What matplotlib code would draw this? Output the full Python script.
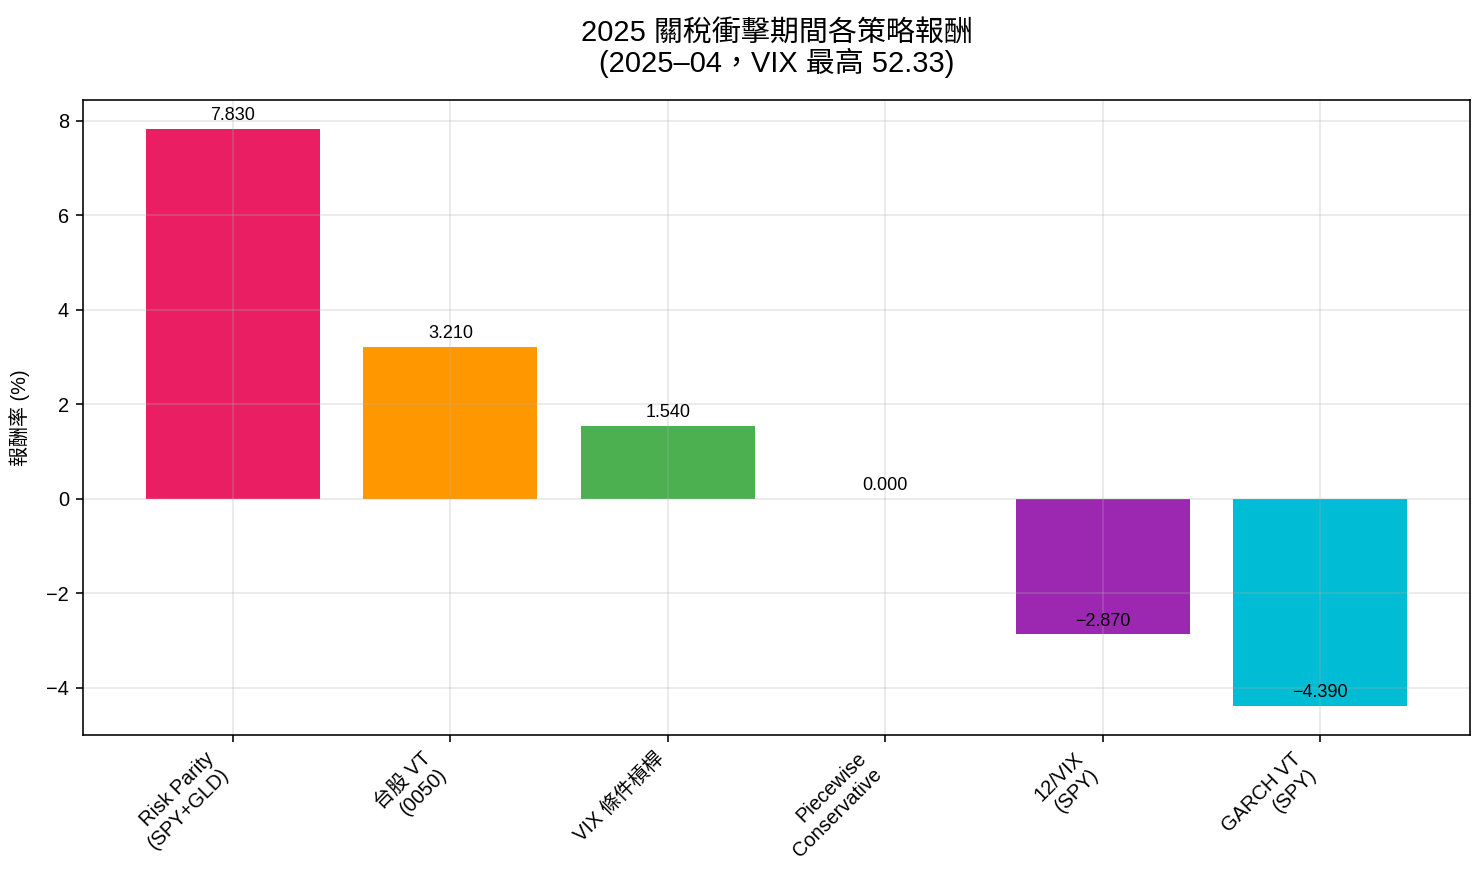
import matplotlib

matplotlib.use("Agg")
import matplotlib.pyplot as plt

plt.rcParams["font.family"] = ["Liberation Sans", "Noto Sans CJK TC", "DejaVu Sans"]
plt.rcParams["axes.unicode_minus"] = True

TITLE = "2025 關稅衝擊期間各策略報酬\n(2025–04，VIX 最高 52.33)"
strategies = [
    "Risk Parity\n(SPY+GLD)",
    "台股 VT\n(0050)",
    "VIX 條件槓桿",
    "Piecewise\nConservative",
    "12/VIX\n(SPY)",
    "GARCH VT\n(SPY)",
]
returns = [7.83, 3.21, 1.54, 0.0, -2.87, -4.39]
colors = ["#E91E63", "#FF9800", "#4CAF50", "#2196F3", "#9C27B0", "#00BCD4"]


def main() -> None:
    fig = plt.figure(figsize=(1483 / 144, 881 / 144), dpi=144)
    ax = fig.add_axes([83 / 1483, 1 - 735 / 881, (1470 - 83) / 1483, (735 - 100) / 881])

    x = range(len(strategies))
    ax.bar(x, returns, color=colors, width=0.8)

    for i, val in enumerate(returns):
        ax.text(i, val + 0.1, f"{val:.3f}".replace("-", "\u2212"),
                ha="center", va="bottom", fontsize=9)

    ax.set_xticks(list(x))
    ax.set_xticklabels(strategies, rotation=45, ha="right", fontsize=10)
    ax.tick_params(axis="y", labelsize=10)
    ax.set_ylabel("報酬率 (%)", fontsize=10, labelpad=8)
    ax.set_title(TITLE, fontsize=14.5, pad=14, linespacing=1.05)
    ax.grid(True, alpha=0.3)

    fig.savefig("out.png", dpi=144)
    plt.close(fig)


if __name__ == "__main__":
    main()
